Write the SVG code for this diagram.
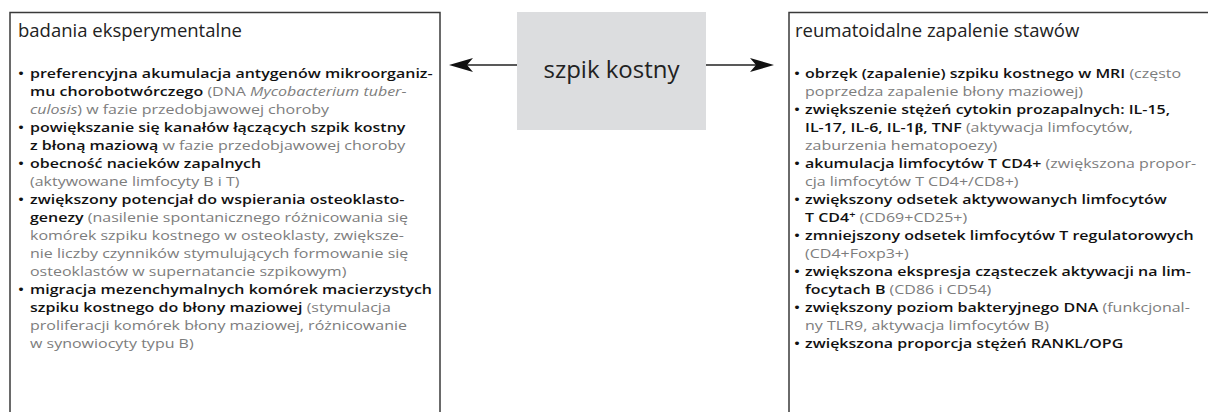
<svg xmlns="http://www.w3.org/2000/svg" width="1208" height="412" viewBox="0 0 1208 412">
<style>
.box{fill:#fff;stroke:#3a3a3a;stroke-width:1.5}
.t{font-family:"Open Sans","Noto Sans",sans-serif;font-size:13.2px;fill:#1a1a1a}
.ttl{font-family:"Open Sans","Noto Sans",sans-serif;font-size:18.5px;fill:#222}
.b{font-weight:600;fill:#111}
.g{fill:#7d7d7d;font-weight:400}
.i{font-style:italic}
.beta{font-family:"Liberation Serif",serif}
.conn{stroke:#222;stroke-width:1.3;fill:none}
.head{fill:#111}
</style>
<rect width="1208" height="412" fill="#fff"/>
<g id="left-box">
<rect class="box" x="10" y="12.5" width="430" height="420"/>
<text class="ttl" x="18" y="37">badania eksperymentalne</text>
<g class="t" transform="scale(1.2121 1)">
<text x="14.85" y="78" class="b">•</text>
<text x="24.75" y="78"><tspan class="b">preferencyjna akumulacja antygenów mikroorganiz-</tspan></text>
<text x="24.75" y="96"><tspan class="b">mu chorobotwórczego</tspan><tspan class="g"> (DNA </tspan><tspan class="g i">Mycobacterium tuber-</tspan></text>
<text x="24.75" y="114"><tspan class="g i">culosis</tspan><tspan class="g">) w fazie przedobjawowej choroby</tspan></text>
<text x="14.85" y="132" class="b">•</text>
<text x="24.75" y="132"><tspan class="b">powiększanie się kanałów łączących szpik kostny</tspan></text>
<text x="24.75" y="150"><tspan class="b">z błoną maziową</tspan><tspan class="g"> w fazie przedobjawowej choroby</tspan></text>
<text x="14.85" y="168" class="b">•</text>
<text x="24.75" y="168"><tspan class="b">obecność nacieków zapalnych</tspan></text>
<text x="24.75" y="186"><tspan class="g">(aktywowane limfocyty B i T)</tspan></text>
<text x="14.85" y="204" class="b">•</text>
<text x="24.75" y="204"><tspan class="b">zwiększony potencjał do wspierania osteoklasto-</tspan></text>
<text x="24.75" y="222"><tspan class="b">genezy</tspan><tspan class="g"> (nasilenie spontanicznego różnicowania się</tspan></text>
<text x="24.75" y="240"><tspan class="g">komórek szpiku kostnego w osteoklasty, zwiększe-</tspan></text>
<text x="24.75" y="258"><tspan class="g">nie liczby czynników stymulujących formowanie się</tspan></text>
<text x="24.75" y="276"><tspan class="g">osteoklastów w supernatancie szpikowym)</tspan></text>
<text x="14.85" y="294" class="b">•</text>
<text x="24.75" y="294"><tspan class="b">migracja mezenchymalnych komórek macierzystych</tspan></text>
<text x="24.75" y="312"><tspan class="b">szpiku kostnego do błony maziowej</tspan><tspan class="g"> (stymulacja</tspan></text>
<text x="24.75" y="330"><tspan class="g">proliferacji komórek błony maziowej, różnicowanie</tspan></text>
<text x="24.75" y="348"><tspan class="g">w synowiocyty typu B)</tspan></text>
</g>
</g>
<g id="center-node">
<rect x="517" y="12" width="189" height="118" fill="#dcdddf"/>
<text x="611.5" y="78" text-anchor="middle" font-family="Open Sans, Noto Sans, sans-serif" font-size="24" fill="#222">szpik kostny</text>
</g>
<g id="right-box">
<rect class="box" x="789" y="12.5" width="430" height="420"/>
<text class="ttl" x="795" y="37">reumatoidalne zapalenie stawów</text>
<g class="t" transform="scale(1.2121 1)">
<text x="655.07" y="78" class="b">•</text>
<text x="664.14" y="78"><tspan class="b">obrzęk (zapalenie) szpiku kostnego w MRI</tspan><tspan class="g"> (często</tspan></text>
<text x="664.14" y="96"><tspan class="g">poprzedza zapalenie błony maziowej)</tspan></text>
<text x="655.07" y="114" class="b">•</text>
<text x="664.14" y="114"><tspan class="b">zwiększenie stężeń cytokin prozapalnych: IL-15,</tspan></text>
<text x="664.14" y="132"><tspan class="b">IL-17, IL-6, IL-1</tspan><tspan class="b beta">β</tspan><tspan class="b">, TNF</tspan><tspan class="g"> (aktywacja limfocytów,</tspan></text>
<text x="664.14" y="150"><tspan class="g">zaburzenia hematopoezy)</tspan></text>
<text x="655.07" y="168" class="b">•</text>
<text x="664.14" y="168"><tspan class="b">akumulacja limfocytów T CD4+</tspan><tspan class="g"> (zwiększona propor-</tspan></text>
<text x="664.14" y="186"><tspan class="g">cja limfocytów T CD4+/CD8+)</tspan></text>
<text x="655.07" y="204" class="b">•</text>
<text x="664.14" y="204"><tspan class="b">zwiększony odsetek aktywowanych limfocytów</tspan></text>
<text x="664.14" y="222"><tspan class="b">T CD4</tspan><tspan class="b" font-size="9" dy="-4">+</tspan><tspan class="g" dy="4"> (CD69+CD25+)</tspan></text>
<text x="655.07" y="240" class="b">•</text>
<text x="664.14" y="240"><tspan class="b">zmniejszony odsetek limfocytów T regulatorowych</tspan></text>
<text x="664.14" y="258"><tspan class="g">(CD4+Foxp3+)</tspan></text>
<text x="655.07" y="276" class="b">•</text>
<text x="664.14" y="276"><tspan class="b">zwiększona ekspresja cząsteczek aktywacji na lim-</tspan></text>
<text x="664.14" y="294"><tspan class="b">focytach B</tspan><tspan class="g"> (CD86 i CD54)</tspan></text>
<text x="655.07" y="312" class="b">•</text>
<text x="664.14" y="312"><tspan class="b">zwiększony poziom bakteryjnego DNA</tspan><tspan class="g"> (funkcjonal-</tspan></text>
<text x="664.14" y="330"><tspan class="g">ny TLR9, aktywacja limfocytów B)</tspan></text>
<text x="655.07" y="348" class="b">•</text>
<text x="664.14" y="348"><tspan class="b">zwiększona proporcja stężeń RANKL/OPG</tspan></text>
</g>
</g>
<g id="connectors">
<line class="conn" x1="517" y1="65" x2="465" y2="65"/>
<path class="head" d="M449,65 L473,58 L467,65 L473,72 Z"/>
<line class="conn" x1="706" y1="65" x2="758" y2="65"/>
<path class="head" d="M774,65 L750,58 L756,65 L750,72 Z"/>
</g>
</svg>
